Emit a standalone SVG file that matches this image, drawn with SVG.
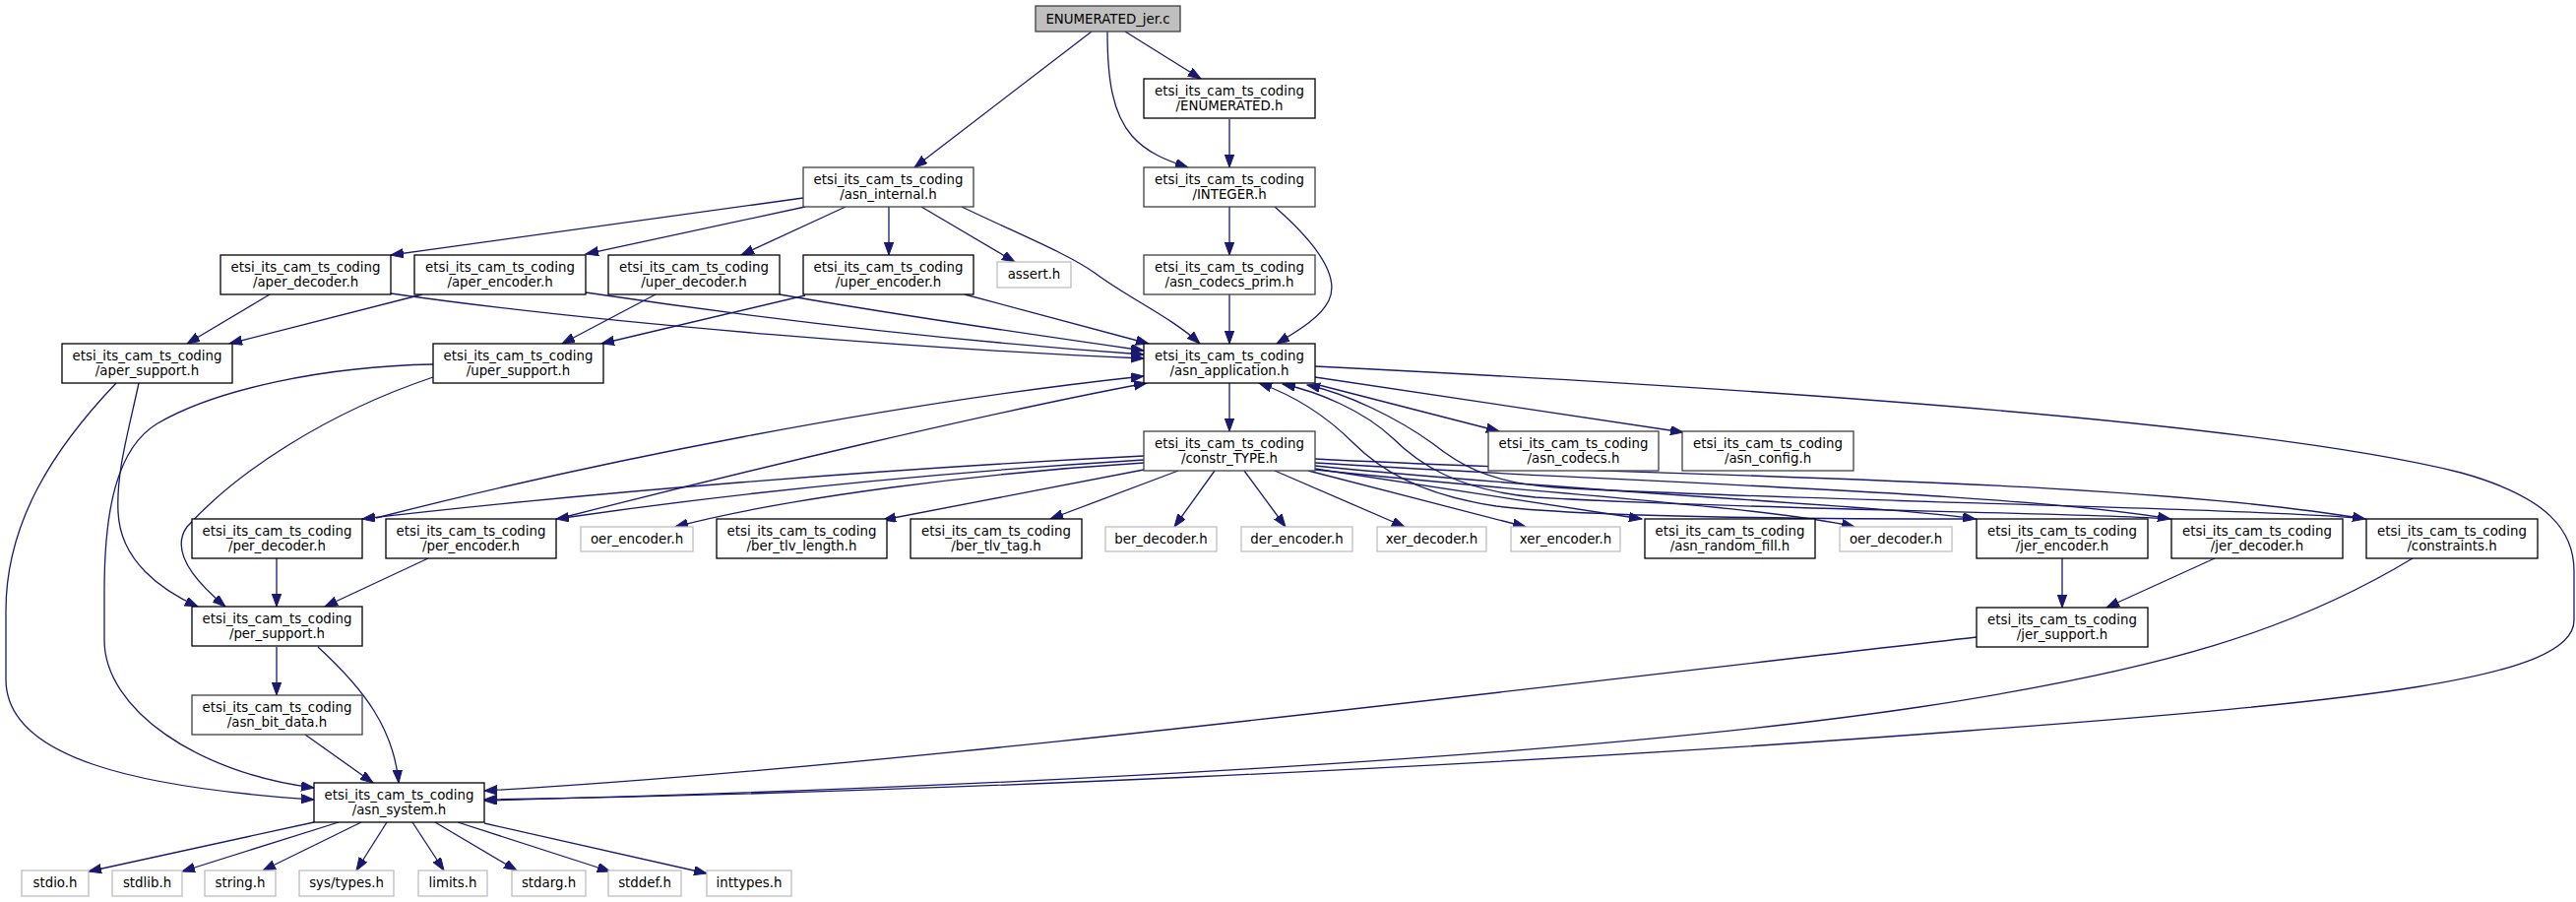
<svg xmlns="http://www.w3.org/2000/svg" width="2617" height="916" viewBox="0 0 2617 916">
<style>
.n rect{fill:#fff;stroke:#000;stroke-width:1.3}
.d rect{stroke:#404040}
.r rect{fill:#bfbfbf;stroke:#404040}
.s rect{fill:#fff;stroke:#bfbfbf;stroke-width:1.3}
text{font-family:"DejaVu Sans","Liberation Sans",sans-serif;font-size:13.33px;text-anchor:middle;fill:#000}
#edges path{fill:none;stroke:#191970;stroke-width:1.3;marker-end:url(#a)}
</style>
<defs>
<marker id="a" markerUnits="userSpaceOnUse" markerWidth="14" markerHeight="10" refX="13" refY="4.7" orient="auto">
<path d="M0,0 L13,4.7 L0,9.4 z" fill="#191970" stroke="#191970" stroke-width="1"/>
</marker>
</defs>
<rect width="2617" height="916" fill="#fff"/>
<g id="edges">
<path d="M1109,32 L929,170"/>
<path d="M1125,32 C1125,80 1130,115 1150,138 C1165,155 1185,163 1207,170"/>
<path d="M1143,32 L1220,80"/>
<path d="M1249,121 L1249,170"/>
<path d="M1249,210 L1249,259"/>
<path d="M1295,210 C1335,245 1362,280 1350,305 C1342,322 1320,335 1297,349"/>
<path d="M1249,299 L1249,349"/>
<path d="M816,201 L397,259"/>
<path d="M818,210 L595,258"/>
<path d="M859,210 L753,259"/>
<path d="M903,210 L903,259"/>
<path d="M936,210 L1031,266"/>
<path d="M977,210 C1040,240 1085,258 1112,277 C1145,302 1190,322 1219,349"/>
<path d="M274,299 L190,349"/>
<path d="M397,298 C620,330 950,355 1162,364"/>
<path d="M429,299 L233,349"/>
<path d="M595,297 C750,320 950,345 1162,360"/>
<path d="M666,299 L571,349"/>
<path d="M792,299 C900,318 1050,340 1162,356"/>
<path d="M818,300 L611,349"/>
<path d="M980,299 L1167,349"/>
<path d="M118,389 C55,455 6,530 6,620 L6,690 C6,770 140,800 319,812"/>
<path d="M141,389 C130,440 118,480 120,520 C122,570 165,600 201,616"/>
<path d="M440,370 C330,372 220,395 160,430 C118,455 106,520 106,600 L106,650 C106,720 200,785 319,800"/>
<path d="M440,383 C330,420 240,480 190,535 C172,560 200,592 229,616"/>
<path d="M1249,389 L1249,438"/>
<path d="M1336,390 L1523,438"/>
<path d="M1336,383 L1710,439"/>
<path d="M1336,372 C1800,395 2300,430 2500,480 C2590,505 2615,540 2615,580 L2615,630 C2615,690 2400,712 2000,742 C1500,780 900,806 492,812"/>
<path d="M1162,463 C900,476 600,500 368,527"/>
<path d="M1162,467 C950,480 750,500 565,527"/>
<path d="M1162,470 C1000,480 800,505 686,535"/>
<path d="M1162,477 L897,528"/>
<path d="M1197,478 L1067,527"/>
<path d="M1234,478 L1193,535"/>
<path d="M1264,478 L1306,535"/>
<path d="M1295,478 L1427,535"/>
<path d="M1329,478 L1550,535"/>
<path d="M1336,476 L1668,527"/>
<path d="M1336,477 C1550,500 1800,515 1884,535"/>
<path d="M1336,473 C1600,500 1900,512 2007,527"/>
<path d="M1336,470 C1650,490 2050,500 2205,527"/>
<path d="M1336,466 C1700,485 2150,485 2403,527"/>
<path d="M382,526 C600,470 900,410 1162,382"/>
<path d="M281,567 L281,616"/>
<path d="M566,527 C750,480 1000,420 1165,389"/>
<path d="M435,567 L330,616"/>
<path d="M281,657 L281,706"/>
<path d="M323,657 C370,700 400,740 405,795"/>
<path d="M310,746 L379,795"/>
<path d="M2008,527 C1800,527 1600,524 1520,514 C1440,502 1400,475 1375,450 C1345,420 1310,400 1279,389"/>
<path d="M2095,567 L2095,617"/>
<path d="M2206,527 C2100,520 1750,517 1560,505 C1480,498 1440,470 1415,445 C1385,417 1340,398 1303,390"/>
<path d="M2250,567 L2140,617"/>
<path d="M2404,527 C2300,516 1800,508 1580,495 C1510,490 1480,470 1455,450 C1420,425 1370,400 1328,391"/>
<path d="M2451,567 C2330,640 2200,680 1950,718 C1600,770 1000,800 492,813"/>
<path d="M2008,647 C1500,705 900,780 492,803"/>
<path d="M319,835 L90,885"/>
<path d="M344,835 L185,885"/>
<path d="M367,835 L267,884"/>
<path d="M393,835 L362,884"/>
<path d="M419,835 L451,884"/>
<path d="M442,835 L525,884"/>
<path d="M465,835 L620,885"/>
<path d="M492,836 L718,887"/>
</g>
<g id="n_root" class="n r"><rect x="1052" y="6" width="147" height="26"/><text x="1125.5" y="23.5">ENUMERATED_jer.c</text></g>
<g id="n_enumerated" class="n"><rect x="1162" y="80" width="174" height="40"/><text x="1249" y="97">etsi_its_cam_ts_coding</text><text x="1249" y="111.5">/ENUMERATED.h</text></g>
<g id="n_asn_internal" class="n d"><rect x="816" y="170" width="173" height="40"/><text x="902.5" y="187">etsi_its_cam_ts_coding</text><text x="902.5" y="201.5">/asn_internal.h</text></g>
<g id="n_integer" class="n d"><rect x="1162" y="170" width="174" height="40"/><text x="1249" y="187">etsi_its_cam_ts_coding</text><text x="1249" y="201.5">/INTEGER.h</text></g>
<g id="n_aper_decoder" class="n"><rect x="224" y="259" width="173" height="40"/><text x="310.5" y="276">etsi_its_cam_ts_coding</text><text x="310.5" y="290.5">/aper_decoder.h</text></g>
<g id="n_aper_encoder" class="n"><rect x="421" y="259" width="174" height="40"/><text x="508" y="276">etsi_its_cam_ts_coding</text><text x="508" y="290.5">/aper_encoder.h</text></g>
<g id="n_uper_decoder" class="n"><rect x="618" y="259" width="174" height="40"/><text x="705" y="276">etsi_its_cam_ts_coding</text><text x="705" y="290.5">/uper_decoder.h</text></g>
<g id="n_uper_encoder" class="n"><rect x="816" y="259" width="173" height="40"/><text x="902.5" y="276">etsi_its_cam_ts_coding</text><text x="902.5" y="290.5">/uper_encoder.h</text></g>
<g id="n_assert" class="s"><rect x="1013" y="266" width="75" height="26"/><text x="1050.5" y="283">assert.h</text></g>
<g id="n_asn_codecs_prim" class="n d"><rect x="1162" y="259" width="174" height="40"/><text x="1249" y="276">etsi_its_cam_ts_coding</text><text x="1249" y="290.5">/asn_codecs_prim.h</text></g>
<g id="n_aper_support" class="n"><rect x="63" y="349" width="173" height="40"/><text x="149.5" y="366">etsi_its_cam_ts_coding</text><text x="149.5" y="380.5">/aper_support.h</text></g>
<g id="n_uper_support" class="n"><rect x="440" y="349" width="173" height="40"/><text x="526.5" y="366">etsi_its_cam_ts_coding</text><text x="526.5" y="380.5">/uper_support.h</text></g>
<g id="n_asn_application" class="n"><rect x="1162" y="349" width="174" height="40"/><text x="1249" y="366">etsi_its_cam_ts_coding</text><text x="1249" y="380.5">/asn_application.h</text></g>
<g id="n_constr_type" class="n d"><rect x="1162" y="438" width="174" height="40"/><text x="1249" y="455">etsi_its_cam_ts_coding</text><text x="1249" y="469.5">/constr_TYPE.h</text></g>
<g id="n_asn_codecs" class="n d"><rect x="1512" y="438" width="173" height="40"/><text x="1598.5" y="455">etsi_its_cam_ts_coding</text><text x="1598.5" y="469.5">/asn_codecs.h</text></g>
<g id="n_asn_config" class="n d"><rect x="1709" y="438" width="174" height="40"/><text x="1796" y="455">etsi_its_cam_ts_coding</text><text x="1796" y="469.5">/asn_config.h</text></g>
<g id="n_per_decoder" class="n"><rect x="195" y="527" width="173" height="40"/><text x="281.5" y="544">etsi_its_cam_ts_coding</text><text x="281.5" y="558.5">/per_decoder.h</text></g>
<g id="n_per_encoder" class="n"><rect x="392" y="527" width="173" height="40"/><text x="478.5" y="544">etsi_its_cam_ts_coding</text><text x="478.5" y="558.5">/per_encoder.h</text></g>
<g id="n_oer_encoder" class="s"><rect x="590" y="535" width="114" height="25"/><text x="647" y="552">oer_encoder.h</text></g>
<g id="n_ber_tlv_length" class="n"><rect x="728" y="527" width="173" height="40"/><text x="814.5" y="544">etsi_its_cam_ts_coding</text><text x="814.5" y="558.5">/ber_tlv_length.h</text></g>
<g id="n_ber_tlv_tag" class="n"><rect x="925" y="527" width="174" height="40"/><text x="1012" y="544">etsi_its_cam_ts_coding</text><text x="1012" y="558.5">/ber_tlv_tag.h</text></g>
<g id="n_ber_decoder" class="s"><rect x="1123" y="535" width="113" height="25"/><text x="1179.5" y="552">ber_decoder.h</text></g>
<g id="n_der_encoder" class="s"><rect x="1261" y="535" width="113" height="25"/><text x="1317.5" y="552">der_encoder.h</text></g>
<g id="n_xer_decoder" class="s"><rect x="1399" y="535" width="111" height="25"/><text x="1454.5" y="552">xer_decoder.h</text></g>
<g id="n_xer_encoder" class="s"><rect x="1535" y="535" width="111" height="25"/><text x="1590.5" y="552">xer_encoder.h</text></g>
<g id="n_asn_random_fill" class="n"><rect x="1671" y="527" width="173" height="40"/><text x="1757.5" y="544">etsi_its_cam_ts_coding</text><text x="1757.5" y="558.5">/asn_random_fill.h</text></g>
<g id="n_oer_decoder" class="s"><rect x="1869" y="535" width="114" height="25"/><text x="1926" y="552">oer_decoder.h</text></g>
<g id="n_jer_encoder" class="n"><rect x="2008" y="527" width="174" height="40"/><text x="2095" y="544">etsi_its_cam_ts_coding</text><text x="2095" y="558.5">/jer_encoder.h</text></g>
<g id="n_jer_decoder" class="n"><rect x="2206" y="527" width="174" height="40"/><text x="2293" y="544">etsi_its_cam_ts_coding</text><text x="2293" y="558.5">/jer_decoder.h</text></g>
<g id="n_constraints" class="n"><rect x="2404" y="527" width="174" height="40"/><text x="2491" y="544">etsi_its_cam_ts_coding</text><text x="2491" y="558.5">/constraints.h</text></g>
<g id="n_per_support" class="n"><rect x="195" y="616" width="173" height="40"/><text x="281.5" y="633">etsi_its_cam_ts_coding</text><text x="281.5" y="647.5">/per_support.h</text></g>
<g id="n_jer_support" class="n"><rect x="2008" y="617" width="174" height="40"/><text x="2095" y="634">etsi_its_cam_ts_coding</text><text x="2095" y="648.5">/jer_support.h</text></g>
<g id="n_asn_bit_data" class="n d"><rect x="195" y="706" width="173" height="40"/><text x="281.5" y="723">etsi_its_cam_ts_coding</text><text x="281.5" y="737.5">/asn_bit_data.h</text></g>
<g id="n_asn_system" class="n"><rect x="319" y="795" width="173" height="40"/><text x="405.5" y="812">etsi_its_cam_ts_coding</text><text x="405.5" y="826.5">/asn_system.h</text></g>
<g id="n_stdio" class="s"><rect x="22" y="884" width="68" height="26"/><text x="56" y="901">stdio.h</text></g>
<g id="n_stdlib" class="s"><rect x="114" y="884" width="71" height="26"/><text x="149.5" y="901">stdlib.h</text></g>
<g id="n_string" class="s"><rect x="208" y="884" width="72" height="26"/><text x="244" y="901">string.h</text></g>
<g id="n_systypes" class="s"><rect x="304" y="884" width="96" height="26"/><text x="352" y="901">sys/types.h</text></g>
<g id="n_limits" class="s"><rect x="425" y="884" width="70" height="26"/><text x="460" y="901">limits.h</text></g>
<g id="n_stdarg" class="s"><rect x="520" y="884" width="75" height="26"/><text x="557.5" y="901">stdarg.h</text></g>
<g id="n_stddef" class="s"><rect x="618" y="884" width="74" height="26"/><text x="655" y="901">stddef.h</text></g>
<g id="n_inttypes" class="s"><rect x="718" y="884" width="86" height="26"/><text x="761" y="901">inttypes.h</text></g>
</svg>
